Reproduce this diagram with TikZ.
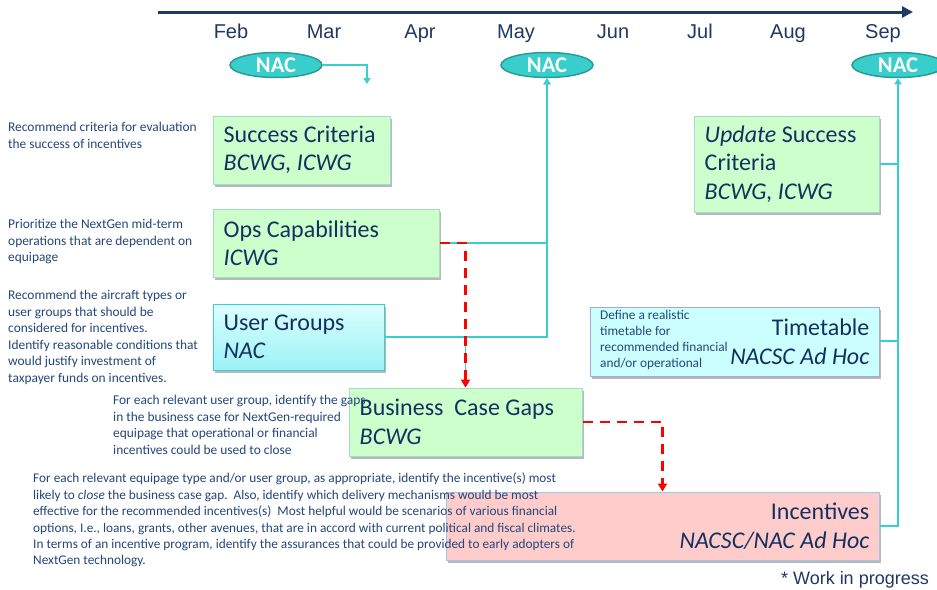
\documentclass[tikz,border=0pt]{standalone}
\usepackage{fontspec}
\setmainfont{Carlito}
\newfontfamily\arialfont{Liberation Sans}
\usetikzlibrary{arrows.meta,shapes.geometric,shadows}
\definecolor{navy}{HTML}{1F3864}
\definecolor{boxtext}{HTML}{13315F}
\definecolor{lefttext}{HTML}{24477A}
\definecolor{tealline}{HTML}{38CFCF}
\definecolor{nacfill}{HTML}{38CECB}
\definecolor{nacborder}{HTML}{2A9C98}
\definecolor{greenfill}{HTML}{CCFFCC}
\definecolor{greenborder}{HTML}{A6DCC6}
\definecolor{cyanborder}{HTML}{3ACFD2}
\definecolor{ttfill}{HTML}{CCFFFF}
\definecolor{ttborder}{HTML}{A5A8DC}
\definecolor{pinkfill}{HTML}{FFCCCC}
\definecolor{pinkborder}{HTML}{9CC8E8}
\definecolor{dashred}{HTML}{FF0000}
\definecolor{HTMLcyan}{HTML}{9CF1F5}
\tikzset{
  boxbase/.style={rectangle, inner sep=0pt, line width=1pt,
    drop shadow={shadow xshift=1.5pt, shadow yshift=-2.5pt, fill=black, opacity=0.28}},
  greenbox/.style={boxbase, fill=greenfill, draw=greenborder},
  ugbox/.style={boxbase, top color=ttfill!70!white, bottom color=HTMLcyan, draw=cyanborder},
  ttbox/.style={boxbase, fill=ttfill, draw=ttborder},
  pinkbox/.style={boxbase, fill=pinkfill, draw=pinkborder},
  boxlabel/.style={inner sep=0pt, text=boxtext, font=\fontsize{24}{28.5}\selectfont},
  month/.style={inner sep=0pt, anchor=base, text=navy, font=\arialfont\fontsize{20}{22}\selectfont},
  nac/.style={ellipse, minimum width=92pt, minimum height=25pt, inner sep=0pt,
    fill=nacfill, draw=nacborder, line width=1.5pt, text=white,
    font=\bfseries\fontsize{22.5}{24}\selectfont},
  note/.style={inner sep=0pt, anchor=north west, align=left, text=lefttext,
    font=\fontsize{13.4}{16.5}\selectfont},
  tealconn/.style={draw=tealline, line width=1.6pt},
  tealarrow/.style={tealconn, -{Triangle[length=6pt,width=7pt]}},
  reddash/.style={draw=dashred, line width=2.6pt, dash pattern=on 10pt off 7pt,
    -{Triangle[length=8pt,width=9pt]}}
}
\begin{document}
\begin{tikzpicture}[x=1pt,y=-1pt]
\clip (0,0) rectangle (937,589);
\fill[white] (0,0) rectangle (937,589);

% timeline
\coordinate (tl0) at (158,12);
\coordinate (tl1) at (913,12);
\draw[navy, line width=3pt, -{Triangle[length=11pt,width=11pt]}] (tl0) -- (tl1);
\node[month] (mFeb) at (231,38) {Feb};
\node[month] (mMar) at (324,38) {Mar};
\node[month] (mApr) at (420,38) {Apr};
\node[month] (mMay) at (516,38) {May};
\node[month] (mJun) at (613,38) {Jun};
\node[month] (mJul) at (700,38) {Jul};
\node[month] (mAug) at (788,38) {Aug};
\node[month] (mSep) at (883,38) {Sep};

% NAC ellipses
\node[nac] (nacFeb) at (276,65) {NAC};
\node[nac] (nacMay) at (547,65) {NAC};
\node[nac] (nacSep) at (898,65) {NAC};
\coordinate (febEnd) at (367,84);

% boxes
\node[greenbox, minimum width=177pt, minimum height=68pt] (sc) at (301.5,150) {};
\node[greenbox, minimum width=226pt, minimum height=68pt] (ops) at (326,243) {};
\node[ugbox, minimum width=171pt, minimum height=66pt] (ug) at (298.5,337) {};
\node[greenbox, minimum width=233pt, minimum height=68pt] (bcg) at (465.5,422) {};
\node[greenbox, minimum width=185pt, minimum height=96pt] (upd) at (786.5,164) {};
\node[ttbox, minimum width=289pt, minimum height=69pt] (tt) at (734.5,341.5) {};
\node[pinkbox, minimum width=433pt, minimum height=68pt] (inc) at (662.5,526) {};

% connectors
\draw[tealarrow] (nacFeb.east) -| (febEnd);
\draw[tealarrow] (ops.east) -| (nacMay.south);
\draw[tealarrow] (ug.east) -| (nacMay.south);
\coordinate (ugSplit) at (ug.east -| bcg.north);
\draw[draw=tealline, line width=0.8pt, -{Triangle[length=6pt,width=7pt]}] (ugSplit) -- (bcg.north);
\draw[reddash] (ops.east) -| (bcg.north);
\draw[reddash] (bcg.east) -| (inc.north);
\draw[tealarrow] (inc.east) -| (nacSep.south);
\draw[tealconn] (upd.east) -- (upd.east -| nacSep.south);
\draw[tealconn] ([yshift=0.5pt]tt.east) -- ([yshift=0.5pt]tt.east -| nacSep.south);

% box labels
\node[boxlabel, anchor=west, align=left] (scT) at ([xshift=11pt]sc.west) {Success Criteria\\\textit{BCWG, ICWG}};
\node[boxlabel, anchor=west, align=left] (opsT) at ([xshift=11pt]ops.west) {Ops Capabilities\\\textit{ICWG}};
\node[boxlabel, anchor=west, align=left] (ugT) at ([xshift=11pt]ug.west) {User Groups\\\textit{NAC}};
\node[boxlabel, anchor=west, align=left] (bcgT) at ([xshift=11pt]bcg.west) {Business\ \ Case Gaps\\\textit{BCWG}};
\node[boxlabel, anchor=west, align=left] (updT) at ([xshift=11pt]upd.west) {\textit{Update} Success\\Criteria\\\textit{BCWG, ICWG}};
\node[boxlabel, anchor=east, align=right] (ttT) at ([xshift=-10pt]tt.east) {Timetable\\\textit{NACSC Ad Hoc}};
\node[boxlabel, anchor=east, align=right] (incT) at ([xshift=-10pt]inc.east) {Incentives\\\textit{NACSC/NAC Ad Hoc}};

% notes
\node[note] (n1) at (8,122) {Recommend criteria for evaluation\\the success of incentives};
\node[note] (n2) at (8,219) {Prioritize the NextGen mid-term\\operations that are dependent on\\equipage};
\node[note] (n3) at (8,290) {Recommend the aircraft types or\\user groups that should be\\considered for incentives.\\Identify reasonable conditions that\\would justify investment of\\taxpayer funds on incentives.};
\node[note] (n4) at (113,395) {For each relevant user group, identify the gaps\\in the business case for NextGen-required\\equipage that operational or financial\\incentives could be used to close};
\node[note, font=\fontsize{13.3}{16}\selectfont] (n6) at (600,310) {Define a realistic\\timetable for\\recommended financial\\and/or operational};
\node[note, font=\fontsize{13.3}{16.4}\selectfont] (n5) at (33,473) {For each relevant equipage type and/or user group, as appropriate, identify the incentive(s) most\\likely to \textit{close} the business case gap.\ \ Also, identify which delivery mechanisms would be most\\effective for the recommended incentives(s)\ \ Most helpful would be scenarios of various financial\\options, I.e., loans, grants, other avenues, that are in accord with current political and fiscal climates.\\In terms of an incentive program, identify the assurances that could be provided to early adopters of\\NextGen technology.};

\node[inner sep=0pt, anchor=east, text=navy, font=\arialfont\fontsize{18}{20}\selectfont] (wip) at (929,580) {* Work in progress};
\end{tikzpicture}
\end{document}
